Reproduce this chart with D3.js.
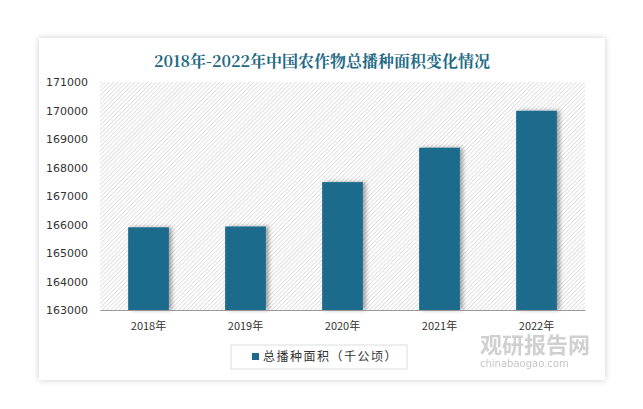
<!DOCTYPE html>
<html>
<head>
<meta charset="utf-8">
<script src="https://d3js.org/d3.v7.min.js"></script>
<style>
  body { margin: 0; background: #fff; }
</style>
</head>
<body>
<script>
    const years = ["2018年", "2019年", "2020年", "2021年", "2022年"];
    const areas = [165902, 165931, 167487, 168695, 169991];
    const yTicks = [163000, 164000, 165000, 166000, 167000, 168000, 169000, 170000, 171000];

    const W = 643, H = 409;
    const svg = d3.select("body").append("svg").attr("width", W).attr("height", H);
    const defs = svg.append("defs");

    // card shadow
    const f = defs.append("filter").attr("id", "card").attr("x", "-10%").attr("y", "-10%").attr("width", "120%").attr("height", "120%");
    f.append("feDropShadow").attr("dx", 0).attr("dy", 0).attr("stdDeviation", 3).attr("flood-color", "#000").attr("flood-opacity", 0.2);
    const bs = defs.append("filter").attr("id", "barshadow").attr("x", "-20%").attr("y", "-10%").attr("width", "150%").attr("height", "120%");
    bs.append("feDropShadow").attr("dx", 3).attr("dy", 0).attr("stdDeviation", 2).attr("flood-color", "#000").attr("flood-opacity", 0.35);

    const pat = defs.append("pattern").attr("id", "hatch").attr("patternUnits", "userSpaceOnUse")
        .attr("width", 3).attr("height", 3).attr("patternTransform", "rotate(45)");
    pat.append("rect").attr("width", 3).attr("height", 3).attr("fill", "#fff");
    pat.append("line").attr("x1", 0).attr("y1", 0).attr("x2", 0).attr("y2", 3).attr("stroke", "#cfcfcf").attr("stroke-width", 1.3);

    svg.append("rect").attr("x", 39).attr("y", 38).attr("width", 566).attr("height", 342)
        .attr("fill", "#fff").attr("filter", "url(#card)");

    svg.append("text").attr("x", 322).attr("y", 67).attr("text-anchor", "middle")
        .attr("font-family", "'Noto Serif CJK SC', 'Noto Sans CJK SC', serif").attr("font-weight", "bold")
        .attr("font-size", 16).attr("fill", "#1f6b85").text("2018年-2022年中国农作物总播种面积变化情况");

    const pLeft = 100, pRight = 585, pTop = 82, pBottom = 310;
    const x = d3.scaleBand().domain(years).range([pLeft, pRight]).paddingInner(0.58).paddingOuter(0.29);
    const y = d3.scaleLinear().domain([163000, 171000]).range([pBottom, pTop]);

    svg.append("rect").attr("x", pLeft).attr("y", pTop).attr("width", pRight - pLeft).attr("height", pBottom - pTop)
        .attr("fill", "url(#hatch)");

    svg.append("g").selectAll("rect").data(areas).join("rect")
        .attr("x", (d, i) => x(years[i])).attr("width", x.bandwidth())
        .attr("y", d => y(d)).attr("height", d => pBottom - y(d))
        .attr("fill", "#1c6b8c").attr("filter", "url(#barshadow)");

    const ya = svg.append("g").attr("transform", `translate(${pLeft},0)`)
        .call(d3.axisLeft(y).tickValues(yTicks).tickSize(0).tickPadding(12).tickFormat(d3.format("d")));
    ya.select(".domain").remove();
    ya.selectAll("text").attr("font-family", "'DejaVu Sans', sans-serif").attr("font-size", 11).attr("fill", "#333");

    const xa = svg.append("g").attr("transform", `translate(0,${pBottom})`)
        .call(d3.axisBottom(x).tickSize(0).tickPadding(12));
    xa.select(".domain").attr("stroke", "#999");
    xa.selectAll("text").attr("font-family", "'Noto Sans CJK SC', sans-serif").attr("font-size", 11).attr("fill", "#333");

    // legend
    svg.append("rect").attr("x", 231).attr("y", 345).attr("width", 176).attr("height", 24)
        .attr("fill", "#fff").attr("stroke", "#ddd");
    svg.append("rect").attr("x", 252).attr("y", 353).attr("width", 7).attr("height", 7).attr("fill", "#1c6b8c");
    svg.append("text").attr("x", 263).attr("y", 361).attr("font-family", "'Noto Sans CJK SC', sans-serif")
        .attr("font-size", 12).attr("letter-spacing", 1.5).attr("fill", "#333").text("总播种面积（千公顷）");

    // watermark
    svg.append("text").attr("x", 480).attr("y", 353).attr("font-family", "'Noto Sans CJK SC', sans-serif")
        .attr("font-weight", "bold").attr("font-size", 22).attr("fill", "#c8c8c8").attr("opacity", 0.85).text("观研报告网");
    svg.append("text").attr("x", 480).attr("y", 367).attr("font-family", "'DejaVu Sans', sans-serif")
        .attr("font-size", 10).attr("fill", "#bbb").attr("opacity", 0.85).text("chinabaogao.com");
</script>
</body>
</html>
